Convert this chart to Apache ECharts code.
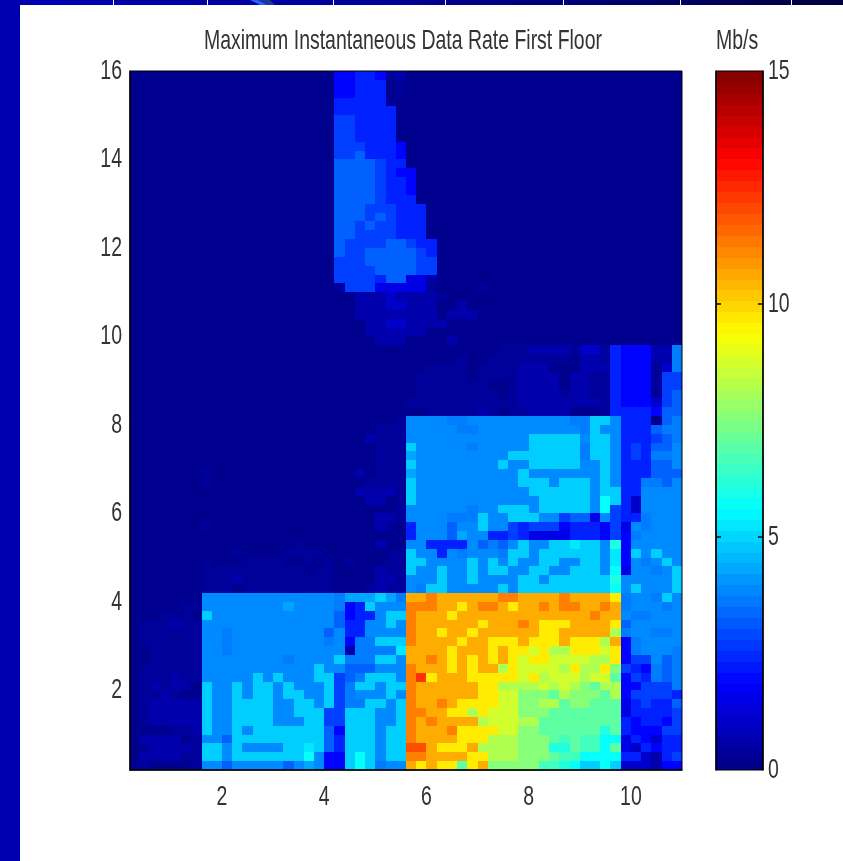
<!DOCTYPE html>
<html>
<head>
<meta charset="utf-8">
<style>html,body{margin:0;padding:0;background:#fff}#c{width:843px;height:861px}</style>
<script src="https://cdn.jsdelivr.net/npm/echarts@6/dist/echarts.min.js"></script>
</head>
<body>
<div id="c"></div>
<script>
const xTicks = [2, 4, 6, 8, 10];
const yTicks = [2, 4, 6, 8, 10, 12, 14, 16];
const barTicks = [0, 5, 10, 15];
const barInnerTicks = [5, 10];
const chartTitle = 'Maximum Instantaneous Data Rate First Floor';
const barTitle = 'Mb/s';
const cellSize = 0.2;
const xStart = 0.2, xEnd = 11, yStart = 0.2, yEnd = 16;
const rateCodes = {a:0.2,b:0.4,c:0.65,d:1.1,e:1.5,f:1.9,g:2.35,h:2.8,i:3.3,j:3.7,k:3.9,l:4.3,m:4.9,n:5.3,o:5.7,p:6.1,q:6.6,r:7.0,s:7.6,t:8.2,u:8.7,w:9.65,y:10.6,z:11.25,A:12.0,B:12.4};
// one string per row, top row first; groups: columns 0-6, 7-26, 27-47, 48-53
const rateRows = [
'aaaaaaa aaaaaaaaaaaaaffggfbc aaaaaaaaaaaaaaaaaaaaa aaaaaa',
'aaaaaaa aaaaaaaaaaaaaffgggab aaaaaaaaaaaaaaaaaaaaa aaaaaa',
'aaaaaaa aaaaaaaaaaaaaffgggab aaaaaaaaaaaaaaaaaaaaa aaaaaa',
'aaaaaaa aaaaaaaaaaaaagggggba aaaaaaaaaaaaaaaaaaaaa aaaaaa',
'aaaaaaa aaaaaaaaaaaaagggggga aaaaaaaaaaaaaaaaaaaaa aaaaaa',
'aaaaaaa aaaaaaaaaaaaahhgggga aaaaaaaaaaaaaaaaaaaaa aaaaaa',
'aaaaaaa aaaaaaaaaaaaahhgggga aaaaaaaaaaaaaaaaaaaaa aaaaaa',
'aaaaaaa aaaaaaaaaaaaahhgggga aaaaaaaaaaaaaaaaaaaaa aaaaaa',
'aaaaaaa aaaaaaaaaaaaahhhgggf aaaaaaaaaaaaaaaaaaaaa aaaaaa',
'aaaaaaa aaaaaaaaaaaaahhigggf aaaaaaaaaaaaaaaaaaaaa aaaaaa',
'aaaaaaa aaaaaaaaaaaaaiiiihgg aaaaaaaaaaaaaaaaaaaaa aaaaaa',
'aaaaaaa aaaaaaaaaaaaaiiiihgf faaaaaaaaaaaaaaaaaaaa aaaaaa',
'aaaaaaa aaaaaaaaaaaaaiiiihgg faaaaaaaaaaaaaaaaaaaa aaaaaa',
'aaaaaaa aaaaaaaaaaaaaiiiihgg faaaaaaaaaaaaaaaaaaaa aaaaaa',
'aaaaaaa aaaaaaaaaaaaaiiiihgg gaaaaaaaaaaaaaaaaaaaa aaaaaa',
'aaaaaaa aaaaaaaaaaaaaiiihhhg ggaaaaaaaaaaaaaaaaaaa aaaaaa',
'aaaaaaa aaaaaaaaaaaaaiiihihg ggaaaaaaaaaaaaaaaaaaa aaaaaa',
'aaaaaaa aaaaaaaaaaaaaiihihhg ggaaaaaaaaaaaaaaaaaaa aaaaaa',
'aaaaaaa aaaaaaaaaaaaaiihhhhg ggaaaaaaaaaaaaaaaaaaa aaaaaa',
'aaaaaaa aaaaaaaaaaaaaihhhhii hggaaaaaaaaaaaaaaaaaa aaaaaa',
'aaaaaaa aaaaaaaaaaaaaihhiiii ihgaaaaaaaaaaaaaaaaaa aaaaaa',
'aaaaaaa aaaaaaaaaaaaahhhiiii ihhaaaaaaaaaaaaaaaaaa aaaaaa',
'aaaaaaa aaaaaaaaaaaaahhhhiii ihhaaaaaaaaaaaaaaaaaa aaaaaa',
'aaaaaaa aaaaaaaaaaaaahhhhgii eecaaaaaaaaaaaaaaaaaa aaaaaa',
'aaaaaaa aaaaaaaaaaaaabhhheee eebaaaabaaaaaaaaaaaaa aaaaaa',
'aaaaaaa aaaaaaaaaaaaaaacccdc cccbaaaaaaaaaaaaaaaaa aaaaaa',
'aaaaaaa aaaaaaaaaaaaaaacccdd cccaacaaaaaaaaaaaaaaa aaaaaa',
'aaaaaaa aaaaaaaaaaaaaaaccccc cccacccaaaaaaaaaaaaaa aaaaaa',
'aaaaaaa aaaaaaaaaaaaaaaaccdd ccccaaaaaaaaaaaaaaaaa aaaaaa',
'aaaaaaa aaaaaaaaaaaaaaaacccc ccaaaaaaaaaaaaaaaaaaa aaaaaa',
'aaaaaaa aaaaaaaaaaaaaaaaaccc aaaacaaaaaaaaaaaaaaaa aaaaaa',
'aaaaaaa aaaaaaaaaaaaaaaaaaaa aaaaaaaaabbbccccbddbg fffccj',
'aaaaaaa aaaaaaaaaaaaaaaaaaaa aaaaabaabbbbbbbbaccbg fffccj',
'aaaaaaa aaaaaaaaaaaaaaaaaaaa aabbbbabbbbcccaaacccg fffbdj',
'aaaaaaa aaaaaaaaaaaaaaaaaaaa abbbbbabbbbccccaccbbg fffbhh',
'aaaaaaa aaaaaaaaaaaaaaaaaaaa abbbbbbbaabccccaccbbg fffbhh',
'aaaaaaa aaaaaaaaaaaaaaaaaaaa abbbbbbbbabccccbccbbg fffbhi',
'aaaaaaa aaaaaaaaaaaaaaaaaaaa bbbbbbbbbbbccccccccbg fffdhi',
'aaaaaaa aaaaaaaaaaaaaaaaaaaa aabbbbbcbabbccccaaabg gggfii',
'aaaaaaa aaaaaaaaaaaaaaaaaaab kkkkjjkkkkkkkkkkjjmmk gggaij',
'aaaaaaa aaaaaaaaaaaaaaaaabbb kkkkkjjkkkkkkkkkkjmkk gggijj',
'aaaaaaa aaaaaaaaaaaaaaaacbbb kkkkkkkkkkkkmmmmmkmmk ggghij',
'aaaaaaa aaaaaaaaaaaaaaaaabbb mkkkkkjkkkkkmmmmmjmmk ghgiik',
'aaaaaaa aaaaaaaaaaaaaaaaabbb lkkkkkkkkkmmmmmmmjmmk ghgjjk',
'aaaaaaa aaaaaaaaaaaaaaaaabbb mkkkkkkkkmkkmmmmmkkmk gggiik',
'aaaaaaa baaaaaaaaaaaaaacabbb lkkkkkkkkkkmkkkkkkkmk gggiii',
'aaaaaaa baaaaaaaaaaaaaaabbbb mkkkkkkkkkkmmmkmmmkmk ggjjik',
'aaaaaaa aaaaaaaaaaaaaaaccccb mkkkkkkkkkkkmmmmmmkmm ggkkkk',
'aaaaaaa aaaaaaaaaaaaaaaaccab mkkkkkkkkkkkkmmmmmkom gdkkkk',
'aaaaaaa aaaaaaaaaaaaaaaaaaab kkkkkkjkkmmmkmmmmmkoh gdkkkk',
'aaaaaaa aaaaaaaaaaaaaaaaaccb kkkkjjjmkkmmmkkhiiekh ggjkkk',
'aaaaaaa baaaaaaaaaaaaaaaacba gkkkikkmkkhghhhfgggfh ekjkkk',
'aaaaaaa aaaaaaaaaaaaaaaaaaaa gkkkilkkgghgeeeegggfh fjkkkk',
'aaaaaaa aaaaaaaaabaaaaaaacaa kkggggkijikmkkmmnmmkp fkkkkk',
'aaaaaaa aaabaaaabbbbaaaaaabb mkkgkjkkkjmmkmmmmmmkn fmkmkk',
'aaaaaaa baaabbbbaabababaaabb mmkkkkmkmkmkkmmkkmmkn fkjkmk',
'aaaaaaa bbbbbbbbbbabbaaaacbb mkkmkkmkmmkkmmkkmmmko ekkjkm',
'aaaaaaa bbbcbbbbbbbbbaaaaccb kkkmkkmkkkkmmkmmmmmmp kkkkkm',
'aaaaaaa bbbabbbbbbbbbaaabcbb kjmmkkkkkmkmmmmmmmmmo kmkkkm',
'aaaaaaa kkkkkkkkkkkkkjlllmlj yyzyyyyyyzzyyyyzyyyyw jkkjmk',
'aaaaabb kkkkkkkklkkkkjfgmkkk zzzyywyzzywyyzyzzyyzy jkkkjk',
'aaabbba mkkkkkkkkkkkkifggkmm zyyywyyyyyyyyyyyyyzyy kjjkkk',
'abbbcbb kkkkkkkkkkkkkiggkkmk zyyyyyywyyyzywwwyyyyw ikkkkk',
'abbbbbb kkjkkkkkkkkkikggkkkk zyywyywyyyyyywwyyyyyt jkkjjk',
'abbbbbb kkjkkkkkkkkkjkfjjmmm zyyyywyywwwywwwywwwty fjkkkk',
'aabbbbb kkjkkkkkkkkkkkcjjjjn yyyywyyywywwuwttwwwuw fjkkkj',
'aabbbbb kkkkkkkkjkkkkmjjjmmk yyzywywywywuwwuuuuttw fhhkij',
'abbbbbb kkkkkkkkkkkmkkiiikkk zyyywywyytwuuuutwttws hgfjij',
'abbbcbb kkkkkmkmkkkmmhijmmmk zBwyyywwwwwuwtuuutuur fhgjij',
'abcbcca mkkmkmmkmkkkmhjmmkmm zyyyyyywwttttututsrtt ffhhhj',
'abbcbaa mkkmkmmkmmkkmhjkkkmk zyyyyyywwuusssrtsssrt fhhhhg',
'abccccc mkkmmmmkkmmkmhjjmmkm zyyzywwwwuussttrssrrr eghggi',
'abccccc mkkmmmmkkmmmhhmmmkkm zzyywwtwuuusssrrrrrrr eggggh',
'abccccc mkkmmmmkkkmmhhmmmkkm zyzyyyytuuuttrrrrrrrr gfggfh',
'aaaabbc mkkmkmmmmmmmifmmmkmm zyyyzwwwwuussrrrrrrpr gfffhh',
'accccab kkimmmmmmmmmigmmmkmm zyyyywwwtttsssrqrqqoo egfdgg',
'abccccb mmkmkkkkmmnmigmmmkmm AAywwwyttttssspprqqor edgfgg',
'accccbb mmkmmmmmmmokffmomkmm zzyyyywwtttsssrqqoooo ggdcgh',
'bbaaaab kkikkkkkiklkffmomjkk ywywwrwysssssqqpommom dddcff'
];
const colorbarLevels = [0.12,0.35,0.59,0.82,1.05,1.29,1.52,1.76,1.99,2.23,2.46,2.70,2.93,3.16,3.40,3.63,3.87,4.10,4.34,4.57,4.80,5.04,5.27,5.51,5.74,5.98,6.21,6.45,6.68,6.91,7.15,7.38,7.62,7.85,8.09,8.32,8.55,8.79,9.02,9.26,9.49,9.73,9.96,10.20,10.43,10.66,10.90,11.13,11.37,11.60,11.84,12.07,12.30,12.54,12.77,13.01,13.24,13.48,13.71,13.95,14.18,14.41,14.65,14.88];
const jetStops = ['#000080','#0000ff','#0080ff','#00ffff','#80ff80','#ffff00','#ff8000','#ff0000','#800000'];

const cells = [];
rateRows.forEach((row, r) => {
  const codes = row.replace(/ /g, '');
  if (codes.length !== 54) console.warn('row', r, codes.length);
  for (let c = 0; c < codes.length; c++) {
    cells.push([xStart + cellSize * (c + 0.5), yEnd - cellSize * (r + 0.5), rateCodes[codes[c]]]);
  }
});

const font = '"Liberation Sans",Arial,sans-serif';
const ink = '#333333';
const textSquash = 0.695;
const chart = echarts.init(document.getElementById('c'), null, {renderer: 'canvas'});

function cellItem(params, api) {
  const x = api.value(0), y = api.value(1);
  const a = api.coord([x - cellSize / 2, y + cellSize / 2]);
  const b = api.coord([x + cellSize / 2, y - cellSize / 2]);
  const x0 = Math.round(a[0]), y0 = Math.round(a[1]), x1 = Math.round(b[0]), y1 = Math.round(b[1]);
  return {type: 'rect', shape: {x: x0, y: y0, width: x1 - x0, height: y1 - y0}, style: {fill: api.visual('color')}};
}
function barItem(params, api) {
  const v = api.value(1);
  const a = api.coord([0, v + 0.1172]);
  const b = api.coord([1, v - 0.1172]);
  const y0 = Math.round(a[1]), y1 = Math.round(b[1]);
  return {type: 'rect', shape: {x: a[0], y: y0, width: b[0] - a[0], height: y1 - y0 + 1}, style: {fill: api.visual('color')}};
}
const hiddenAxisParts = {axisLine: {show: false}, axisTick: {show: false}, axisLabel: {show: false}, splitLine: {show: false}};
const labelStyle = {color: ink, fontFamily: font, fontSize: 28};
const frame = {show: true, onZero: false, lineStyle: {color: '#000', width: 1.5}};

chart.setOption({
  animation: false,
  backgroundColor: '#ffffff',
  title: [
    {text: chartTitle, left: 204, top: 27, padding: 0, textStyle: {color: ink, fontFamily: font, fontSize: 28, fontWeight: 'normal'}},
    {text: barTitle, left: 716, top: 27, padding: 0, textStyle: {color: ink, fontFamily: font, fontSize: 28, fontWeight: 'normal'}}
  ],
  grid: [
    {left: 130, top: 71, width: 552, height: 699, show: true, borderColor: '#000', borderWidth: 1, z: 5, backgroundColor: 'transparent'},
    {left: 716, top: 71, width: 47, height: 699, show: true, borderColor: '#000', borderWidth: 1, z: 5, backgroundColor: 'transparent'}
  ],
  xAxis: [
    {type: 'value', gridIndex: 0, z: 5, min: xStart, max: xEnd, splitLine: {show: false}, axisLine: frame, axisTick: {show: false},
     axisLabel: {customValues: xTicks, margin: 13, ...labelStyle}},
    {type: 'value', gridIndex: 1, min: 0, max: 1, ...hiddenAxisParts}
  ],
  yAxis: [
    {type: 'value', gridIndex: 0, z: 5, min: yStart, max: yEnd, splitLine: {show: false}, axisLine: frame, axisTick: {show: false},
     axisLabel: {customValues: yTicks, margin: 8, ...labelStyle}},
    {type: 'value', gridIndex: 1, z: 5, position: 'right', min: 0, max: 15, splitLine: {show: false}, axisLine: frame,
     axisTick: {show: true, inside: true, length: 5, customValues: barInnerTicks, lineStyle: {color: '#000', width: 1.5}},
     axisLabel: {customValues: barTicks, margin: 5, ...labelStyle}},
    {type: 'value', gridIndex: 1, z: 5, position: 'left', min: 0, max: 15, splitLine: {show: false}, axisLabel: {show: false}, axisLine: frame,
     axisTick: {show: true, inside: true, length: 5, customValues: barInnerTicks, lineStyle: {color: '#000', width: 1.5}}}
  ],
  visualMap: {show: false, type: 'continuous', min: 0, max: 15, seriesIndex: [0, 1], dimension: 2, inRange: {color: jetStops}},
  series: [
    {type: 'custom', xAxisIndex: 0, yAxisIndex: 0, data: cells, renderItem: cellItem, encode: {x: 0, y: 1}, clip: true, z: 1, silent: true},
    {type: 'custom', xAxisIndex: 1, yAxisIndex: 1, data: colorbarLevels.map(v => [0.5, v, v]), renderItem: barItem, encode: {x: 0, y: 1}, clip: true, z: 1, silent: true}
  ],
  graphic: [
    {type: 'rect', z: 0, shape: {x: 0, y: 0, width: 20, height: 861}, style: {fill: '#0000b0'}},
    {type: 'rect', z: 0, shape: {x: 0, y: 0, width: 843, height: 5},
     style: {fill: new echarts.graphic.LinearGradient(0, 0, 1, 0, [{offset: 0, color: '#0000b4'}, {offset: 0.45, color: '#00009a'}, {offset: 1, color: '#000040'}])}},
    {type: 'polygon', z: 0, shape: {points: [[250, 0], [258, 0], [268, 5], [260, 5]]}, style: {fill: '#2a5cff'}},
    {type: 'polygon', z: 0, shape: {points: [[258, 0], [270, 0], [275, 5], [268, 5]]}, style: {fill: '#1a3a9a'}},
    {type: 'rect', z: 0, shape: {x: 113, y: 0, width: 1, height: 5}, style: {fill: '#fff'}},
    {type: 'rect', z: 0, shape: {x: 207, y: 0, width: 1, height: 5}, style: {fill: '#fff'}},
    {type: 'rect', z: 0, shape: {x: 333, y: 0, width: 1, height: 5}, style: {fill: '#fff'}},
    {type: 'rect', z: 0, shape: {x: 445, y: 0, width: 1, height: 5}, style: {fill: '#fff'}},
    {type: 'rect', z: 0, shape: {x: 563, y: 0, width: 1, height: 5}, style: {fill: '#fff'}},
    {type: 'rect', z: 0, shape: {x: 680, y: 0, width: 1, height: 5}, style: {fill: '#fff'}},
    {type: 'rect', z: 0, shape: {x: 791, y: 0, width: 1, height: 5}, style: {fill: '#fff'}}
  ]
});

// The source figure is squeezed sideways: narrow every text about its own anchor.
const zr = chart.getZr();
zr.storage.traverse(el => {
  if (el.type === 'text') {
    el.scaleX = textSquash;
    el.markRedraw();
  }
});
zr.refresh();
</script>
</body>
</html>
